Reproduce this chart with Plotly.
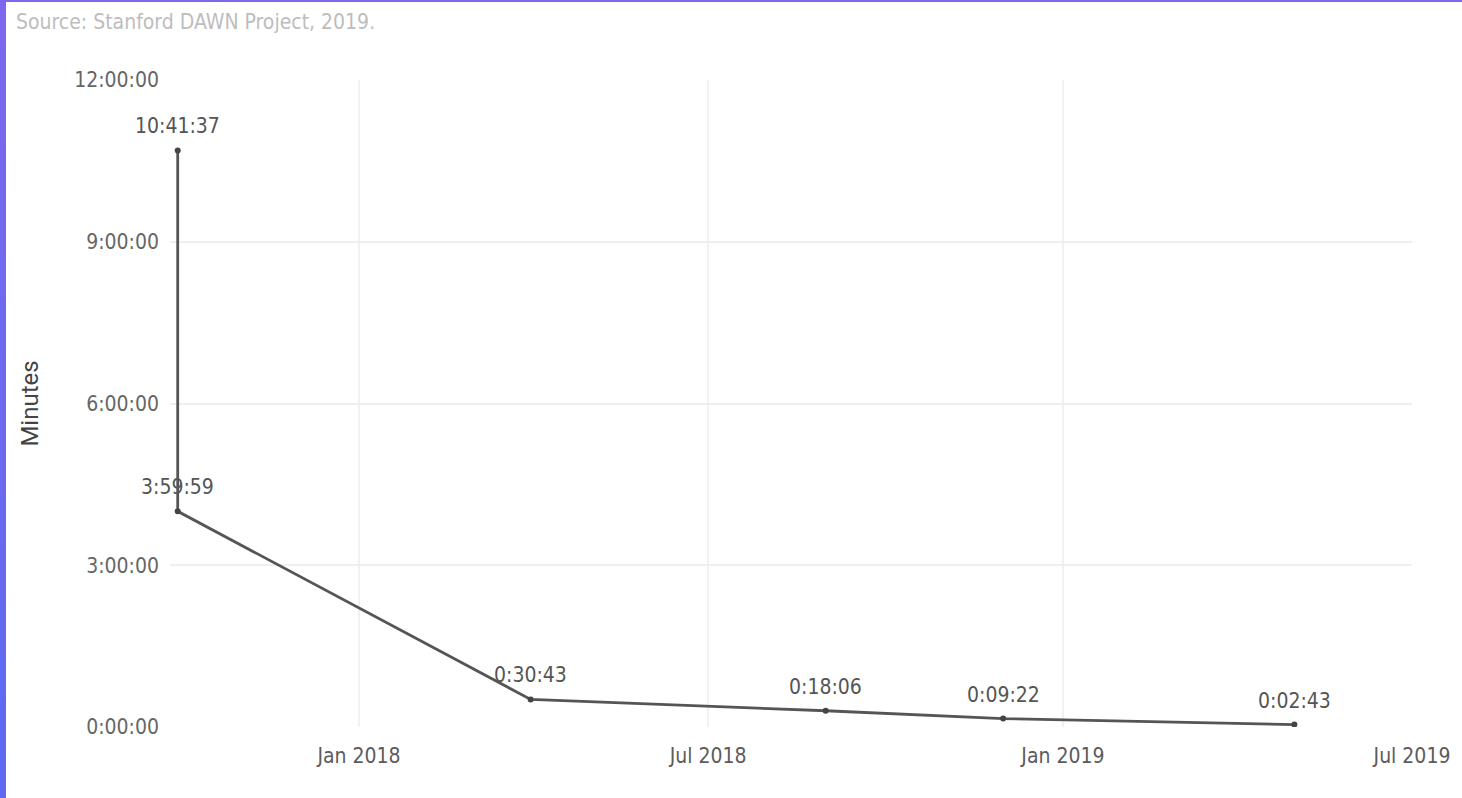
import plotly.graph_objects as go

# ---- data ----
dates = ["2017-09-29", "2017-09-29", "2018-03-31", "2018-08-31", "2018-12-01", "2019-05-01"]
times = ["10:41:37", "3:59:59", "0:30:43", "0:18:06", "0:09:22", "0:02:43"]
y_tick_vals = [0, 3, 6, 9, 12]
y_tick_text = ["0:00:00", "3:00:00", "6:00:00", "9:00:00", "12:00:00"]
x_tick_vals = ["2018-01-01", "2018-07-01", "2019-01-01", "2019-07-01"]
x_tick_text = ["Jan 2018", "Jul 2018", "Jan 2019", "Jul 2019"]
source_text = "Source: Stanford DAWN Project, 2019."
y_title = "Minutes"


def to_hours(s):
    h, m, sec = (int(p) for p in s.split(":"))
    return h + m / 60 + sec / 3600


hours = [to_hours(t) for t in times]

W, H = 1462, 798
ML, MR, MT, MB = 170, 50, 80, 71
PW, PH = W - ML - MR, H - MT - MB

COND = "Liberation Sans Narrow, DejaVu Sans Condensed, Roboto, sans-serif"

fig = go.Figure()
fig.add_trace(go.Scatter(
    x=dates, y=hours, mode="lines+markers",
    line=dict(color="#555555", width=2.8),
    marker=dict(color="#444444", size=6),
    hoverinfo="skip", showlegend=False,
))

annotations = []
for d, h, t in zip(dates, hours, times):
    annotations.append(dict(
        x=d, y=h, xref="x", yref="y", text=t, showarrow=False,
        yshift=24, font=dict(family=COND, size=21, color="#555555"),
    ))

annotations.append(dict(
    x=(14 - ML) / PW, y=(H - MB - 22) / PH, xref="paper", yref="paper",
    xanchor="left", yanchor="middle", text=source_text, showarrow=False,
    font=dict(family=COND, size=21, color="#bdbdbd"),
))

shapes = []
# left gradient border
n = 16
c0 = (123, 104, 238)
c1 = (94, 106, 241)
for i in range(n):
    f = i / (n - 1)
    col = "rgb(%d,%d,%d)" % tuple(round(a + (b - a) * f) for a, b in zip(c0, c1))
    py0 = H * i / n
    py1 = H * (i + 1) / n + 1
    shapes.append(dict(
        type="rect", xref="paper", yref="paper",
        x0=(0 - ML) / PW, x1=(6 - ML) / PW,
        y0=(H - MB - py1) / PH, y1=(H - MB - py0) / PH,
        fillcolor=col, line=dict(width=0), layer="above",
    ))
# top border
shapes.append(dict(
    type="rect", xref="paper", yref="paper",
    x0=(0 - ML) / PW, x1=(W - ML) / PW,
    y0=(H - MB - 2) / PH, y1=(H - MB + 2) / PH,
    fillcolor="rgb(123,104,238)", line=dict(width=0), layer="above",
))

fig.update_layout(
    width=W, height=H,
    margin=dict(l=ML, r=MR, t=MT, b=MB),
    paper_bgcolor="white", plot_bgcolor="white",
    annotations=annotations, shapes=shapes,
    xaxis=dict(
        type="date", range=["2017-09-25", "2019-07-01"],
        tickvals=x_tick_vals, ticktext=x_tick_text,
        showgrid=True, gridcolor="#f1f1f1", gridwidth=1.5,
        zeroline=False, showline=False, ticks="",
        tickfont=dict(family=COND, size=21, color="#5c5c5c"),
        ticklabelstandoff=14,
    ),
    yaxis=dict(
        range=[0, 12], tickvals=y_tick_vals, ticktext=y_tick_text,
        showgrid=True, gridcolor="#efefef", gridwidth=1.5,
        zeroline=False, showline=False, ticks="",
        tickfont=dict(family=COND, size=21, color="#666666"),
        ticklabelstandoff=10,
        title=dict(text=y_title, font=dict(family="Roboto, sans-serif", size=24, color="#444444"), standoff=28),
    ),
)

fig.write_html("out.html")
